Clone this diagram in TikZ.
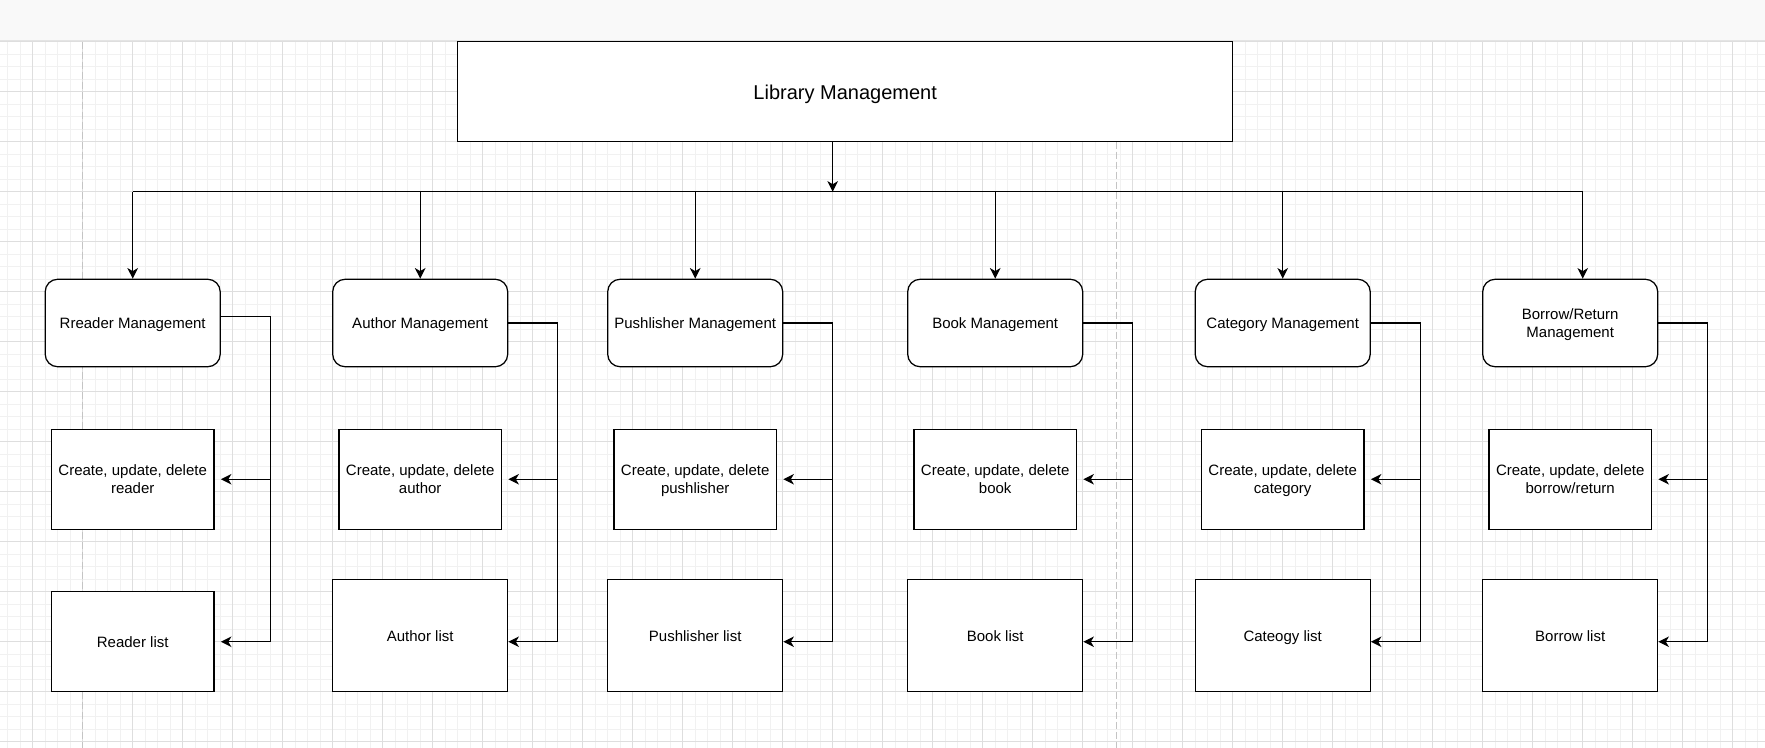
\documentclass[tikz,border=0pt]{standalone}
\usepackage{fontspec}
\setmainfont{Liberation Sans}
\usetikzlibrary{arrows.meta}
\definecolor{barfill}{HTML}{F9F9F9}
\definecolor{barline}{HTML}{E4E4E4}
\definecolor{gridminor}{HTML}{F1F1F1}
\definecolor{gridmajor}{HTML}{DEDEDE}
\definecolor{pagebreak}{HTML}{C4C4C4}
% line strut imitating the label line box (12 px text, 1.2 line height)
\newcommand\lnstrut{\rule[-2.7pt]{0pt}{14.4pt}}
\newcommand\titlestrut{\rule[-3.6pt]{0pt}{19.2pt}}
\begin{document}
\begin{tikzpicture}[x=1pt,y=-1pt,
  every node/.style={font=\fontsize{12}{14.4}\selectfont, text=black},
  mgmt/.style={draw=black, line width=1pt, fill=white, rounded corners=10pt,
    minimum width=140pt, minimum height=70pt, inner sep=0pt, align=center},
  task/.style={draw=black, line width=1pt, fill=white,
    minimum width=130pt, minimum height=80pt, inner sep=0pt, align=center},
  listwide/.style={task, minimum width=140pt, minimum height=90pt},
  titlebox/.style={draw=black, line width=1pt, fill=white,
    minimum width=620pt, minimum height=80pt, inner sep=0pt,
    font=\fontsize{16}{19.2}\selectfont},
  conn/.style={line width=1pt, draw=black},
  arr/.style={conn, -{Stealth[length=8.5pt,width=8.5pt,inset=2.5pt]}},
  gminor/.style={draw=gridminor, line width=0.8pt},
  gmajor/.style={draw=gridmajor, line width=0.8pt},
  pbreak/.style={draw=pagebreak, line width=0.8pt, dash pattern=on 6pt off 2pt},
]
\useasboundingbox (-66.16,-33.4) rectangle (1345.84,565);
\clip (-66.16,-33.4) rectangle (1345.84,565);
% background grid
\fill[white] (-66.16,-33.4) rectangle (1345.84,565);
\foreach \x in {-60,-50,...,1340} \draw[gminor] (\x,0) -- (\x,565);
\foreach \y in {0,10,...,560} \draw[gminor] (-66.16,\y) -- (1345.84,\y);
\foreach \x in {-40,0,...,1320} \draw[gmajor] (\x,0) -- (\x,565);
\foreach \y in {0,40,...,560} \draw[gmajor] (-66.16,\y) -- (1345.84,\y);
% page breaks
\draw[pbreak] (0,0) -- (0,565);
\draw[pbreak] (827,0) -- (827,565);
% top bar
\fill[barfill] (-66.16,-33.4) rectangle (1345.84,-0.6);
\draw[barline, line width=1.2pt] (-66.16,-1) -- (1345.84,-1);

% nodes
\node[titlebox] (title) at (610,40) {\titlestrut Library Management};

\node[mgmt] (p1) at (40,225)   {\lnstrut Rreader Management};
\node[mgmt] (p2) at (270,225)  {\lnstrut Author Management};
\node[mgmt] (p3) at (490,225)  {\lnstrut Pushlisher Management};
\node[mgmt] (p4) at (730,225)  {\lnstrut Book Management};
\node[mgmt] (p5) at (960,225)  {\lnstrut Category Management};
\node[mgmt] (p6) at (1190,225) {\lnstrut Borrow/Return\\\lnstrut Management};

\node[task] (c1) at (40,350)   {\lnstrut Create, update, delete\\\lnstrut reader};
\node[task] (c2) at (270,350)  {\lnstrut Create, update, delete\\\lnstrut author};
\node[task] (c3) at (490,350)  {\lnstrut Create, update, delete\\\lnstrut pushlisher};
\node[task] (c4) at (730,350)  {\lnstrut Create, update, delete\\\lnstrut book};
\node[task] (c5) at (960,350)  {\lnstrut Create, update, delete\\\lnstrut category};
\node[task] (c6) at (1190,350) {\lnstrut Create, update, delete\\\lnstrut borrow/return};

\node[task]     (l1) at (40,480)   {\lnstrut Reader list};
\node[listwide] (l2) at (270,475)  {\lnstrut Author list};
\node[listwide] (l3) at (490,475)  {\lnstrut Pushlisher list};
\node[listwide] (l4) at (730,475)  {\lnstrut Book list};
\node[listwide] (l5) at (960,475)  {\lnstrut Cateogy list};
\node[listwide] (l6) at (1190,475) {\lnstrut Borrow list};

% bus coordinates
\coordinate (hub) at (600,120);
\coordinate (b1) at (40,120);
\coordinate (b2) at (270,120);
\coordinate (b3) at (490,120);
\coordinate (b4) at (730,120);
\coordinate (b5) at (960,120);
\coordinate (b6) at (1200,120);

\draw[conn] (b1) -- (b6);
\draw[arr] ([xshift=-10pt]title.south) -- (hub);
\foreach \i in {1,...,5} \draw[arr] (b\i) -- (p\i.north);
\draw[arr] (b6) -- ([xshift=10pt]p6.north);

% side connectors
\coordinate (r1) at (150,220);  \coordinate (s1) at (150,480);
\coordinate (r2) at (380,225);  \coordinate (s2) at (380,480);
\coordinate (r3) at (600,225);  \coordinate (s3) at (600,480);
\coordinate (r4) at (840,225);  \coordinate (s4) at (840,480);
\coordinate (r5) at (1070,225); \coordinate (s5) at (1070,480);
\coordinate (r6) at (1300,225); \coordinate (s6) at (1300,480);

\foreach \i in {1,...,6} {
  \draw[arr] (p\i.east |- r\i) -- (r\i) -- (s\i) -- (p\i.east |- s\i);
  \draw[arr] (c\i.east -| r\i) -- (c\i.east -| p\i.east);
}
\end{tikzpicture}
\end{document}
